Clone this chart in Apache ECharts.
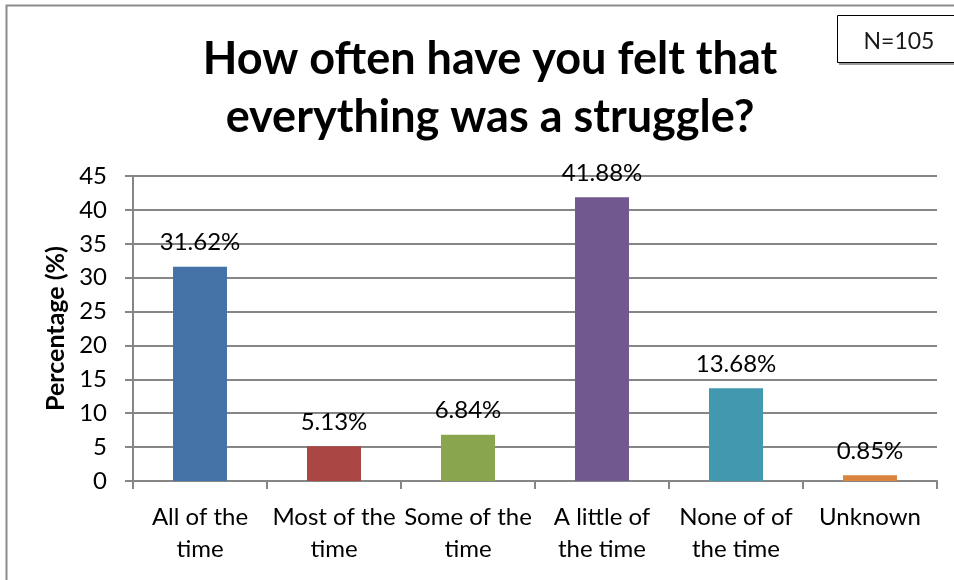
<!DOCTYPE html>
<html>
<head>
<meta charset="utf-8">
<script src="https://cdn.jsdelivr.net/npm/echarts@6/dist/echarts.min.js"></script>
<style>
  html, body { margin: 0; padding: 0; background: #fff; }
  #chart { width: 954px; height: 580px; }
</style>
</head>
<body>
<div id="chart"></div>
<script>
// Survey responses: share of respondents per answer
const categories = ['All of the\ntime', 'Most of the\ntime', 'Some of the\ntime', 'A little of\nthe time', 'None of of\nthe time', 'Unknown'];
const percentages = [31.62, 5.13, 6.84, 41.88, 13.68, 0.85];
const barColors = ['#4572A7', '#AA4643', '#89A54E', '#71588F', '#4198AF', '#DB843D'];
const yTicks = { min: 0, max: 45, interval: 5 };
const titleText = 'How often have you felt that\neverything was a struggle?';
const sampleNote = 'N=105';

const FONT = 'Lato, "Open Sans", sans-serif';
const chart = echarts.init(document.getElementById('chart'), null, { renderer: 'canvas' });

chart.setOption({
  animation: false,
  backgroundColor: '#fff',
  title: {
    text: titleText,
    left: 485,
    textAlign: 'center',
    top: 25,
    textStyle: { fontFamily: FONT, fontWeight: 'bold', fontSize: 45, lineHeight: 58, color: '#000' }
  },
  graphic: [
    {
      type: 'rect', silent: true, z: -1,
      shape: { x: 6.5, y: 5.5, width: 960, height: 590 },
      style: { fill: null, stroke: '#8c8c8c', lineWidth: 2 }
    },
    {
      type: 'rect', silent: true,
      shape: { x: 839, y: 18, width: 120, height: 47 },
      style: { fill: '#9a9a9a', stroke: null }
    },
    {
      type: 'rect', silent: true,
      shape: { x: 837.5, y: 15.5, width: 120, height: 47 },
      style: { fill: '#fff', stroke: '#000', lineWidth: 1 }
    },
    {
      type: 'text', silent: true,
      style: { x: 899, y: 42, text: sampleNote, fill: '#1a1a1a', fontFamily: FONT, fontSize: 23,
               align: 'center', verticalAlign: 'middle' }
    }
  ],
  grid: { left: 133, right: 17, top: 176, bottom: 99, containLabel: false },
  xAxis: {
    type: 'category',
    data: categories,
    axisLine: { lineStyle: { color: '#868686', width: 2 } },
    axisTick: { show: true, length: 8, alignWithLabel: false, lineStyle: { color: '#868686', width: 2 } },
    axisLabel: { fontFamily: FONT, fontSize: 24, color: '#000', lineHeight: 32, margin: 20, interval: 0 }
  },
  yAxis: {
    type: 'value',
    min: yTicks.min, max: yTicks.max, interval: yTicks.interval,
    name: 'Percentage (%)',
    nameLocation: 'middle',
    nameGap: 60,
    nameTextStyle: { fontFamily: FONT, fontWeight: 'bold', fontSize: 25, color: '#000' },
    axisLine: { show: true, lineStyle: { color: '#868686', width: 2 } },
    axisTick: { show: true, inside: false, length: 8, lineStyle: { color: '#868686', width: 2 } },
    axisLabel: { fontFamily: FONT, fontSize: 24, color: '#000', margin: 26 },
    splitLine: { show: true, lineStyle: { color: '#868686', width: 2 } }
  },
  series: [{
    type: 'bar',
    data: percentages.map((v, i) => ({ value: v, itemStyle: { color: barColors[i] } })),
    barWidth: 54,
    label: {
      show: true, position: 'top', distance: 12,
      formatter: p => p.value.toFixed(2) + '%',
      fontFamily: FONT, fontSize: 24, color: '#000'
    }
  }]
});
</script>
</body>
</html>
